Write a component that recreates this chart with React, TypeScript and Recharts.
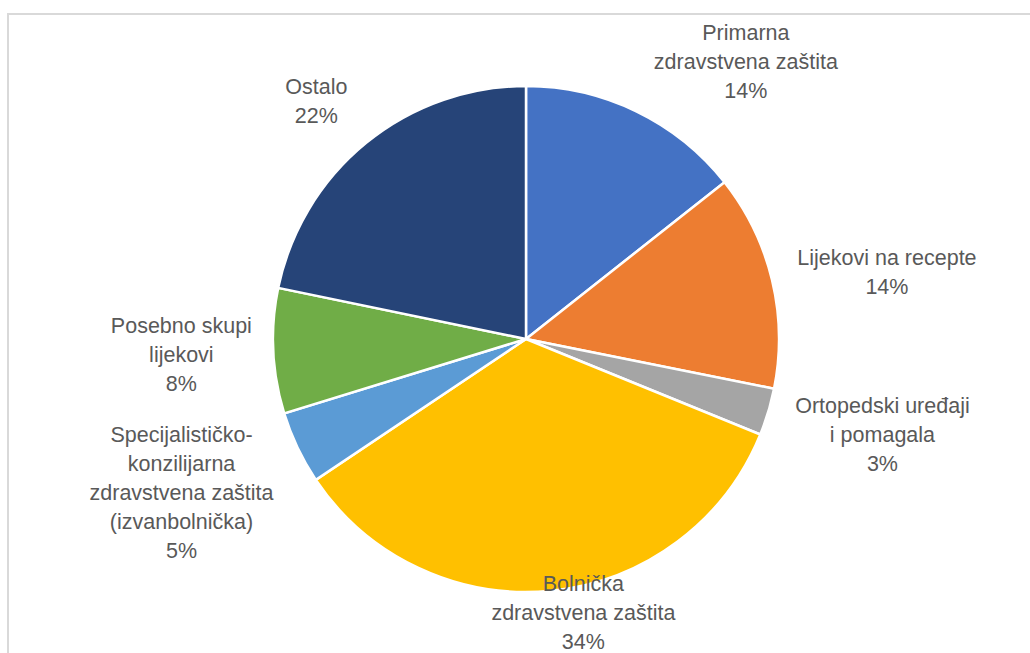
import React from "react";
import { PieChart, Pie, Cell } from "recharts";

const categories = [
  "Primarna\nzdravstvena zaštita",
  "Lijekovi na recepte",
  "Ortopedski uređaji\ni pomagala",
  "Bolnička\nzdravstvena zaštita",
  "Specijalističko-\nkonzilijarna\nzdravstvena zaštita\n(izvanbolnička)",
  "Posebno skupi\nlijekovi",
  "Ostalo",
];
const values = [14.36, 13.79, 3.01, 34.44, 4.65, 7.99, 21.76];
const colors = ["#4472C4", "#ED7D31", "#A5A5A5", "#FFC000", "#5B9BD5", "#70AD47", "#264478"];

// label layout (style): block widths and nudges
const LABEL_W = [188, 180, 182, 186, 202, 140, 60];
const LABEL_NUDGE: [number, number][] = [
  [59, 10],
  [6, 4],
  [6, 4],
  [20, -43],
  [-5, 5],
  [0, 1],
  [-17, -2],
];
const LINE_H = 29;
const GAP = 22;
const FONT = 21.5;

const data = categories.map((name, i) => ({ name, value: values[i] }));

const renderLabel = (props: any) => {
  const { cx, cy, midAngle, outerRadius, index, percent } = props;
  const rad = (-midAngle * Math.PI) / 180;
  const ux = Math.cos(rad);
  const uy = Math.sin(rad);
  const lines = (categories[index] + "\n" + Math.round(percent * 100) + "%").split("\n");
  const w = LABEL_W[index];
  const h = lines.length * LINE_H;
  const px = cx + (outerRadius + GAP) * ux;
  const py = cy + (outerRadius + GAP) * uy;
  const bx = px + (ux * w) / 2 + LABEL_NUDGE[index][0];
  const by = py + (uy * h) / 2 + LABEL_NUDGE[index][1];
  return (
    <text
      key={"lbl" + index}
      x={bx}
      y={by}
      textAnchor="middle"
      fill="#595959"
      fontSize={FONT}
      fontFamily="'Liberation Sans', Arial, sans-serif"
    >
      {lines.map((ln, i) => (
        <tspan key={i} x={bx} y={by + (i - (lines.length - 1) / 2) * LINE_H} dominantBaseline="central">
          {ln}
        </tspan>
      ))}
    </text>
  );
};

export default function App() {
  return (
    <div
      style={{
        position: "absolute",
        left: 0,
        top: 0,
        width: 1030,
        height: 653,
        background: "#fff",
        overflow: "hidden",
      }}
    >
      <div
        style={{
          position: "absolute",
          left: 7,
          top: 13,
          width: 1100,
          height: 800,
          borderTop: "2px solid #d9d9d9",
          borderLeft: "2px solid #d9d9d9",
        }}
      />
      <div style={{ position: "absolute", left: 0, top: 0 }}>
        <PieChart width={1030} height={653} margin={{ top: 0, right: 0, bottom: 0, left: 0 }}>
          <Pie
            data={data}
            dataKey="value"
            nameKey="name"
            cx={526}
            cy={339}
            outerRadius={253}
            startAngle={90}
            endAngle={-270}
            stroke="#ffffff"
            strokeWidth={2.5}
            label={renderLabel}
            labelLine={false}
            isAnimationActive={false}
          >
            {data.map((d, i) => (
              <Cell key={d.name} fill={colors[i]} />
            ))}
          </Pie>
        </PieChart>
      </div>
    </div>
  );
}
